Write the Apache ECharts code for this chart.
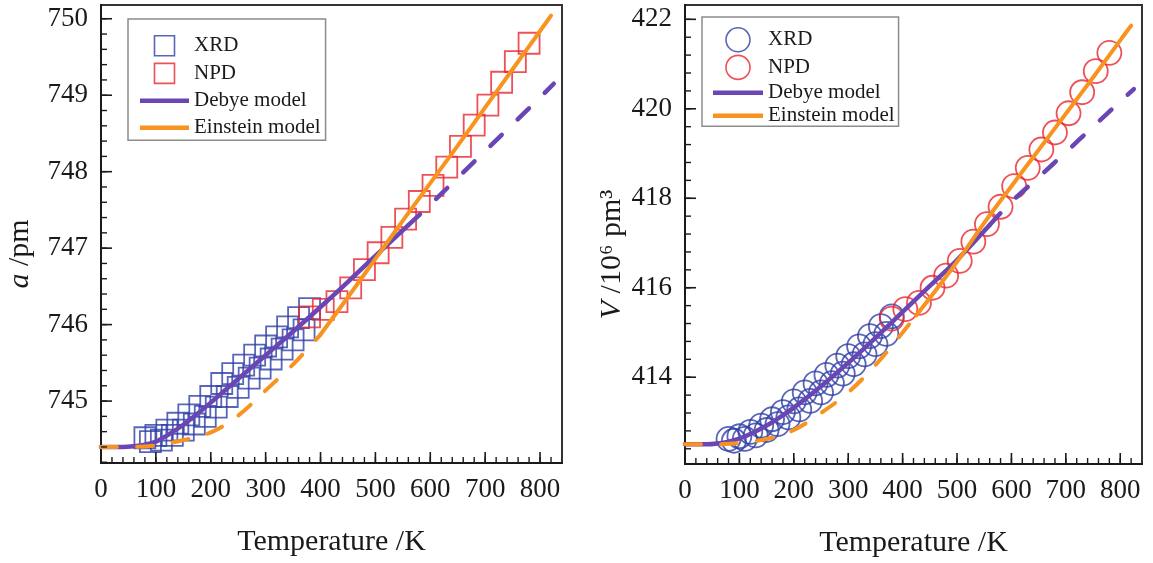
<!DOCTYPE html>
<html><head><meta charset="utf-8">
<script src="https://cdn.jsdelivr.net/npm/echarts@6/dist/echarts.min.js"></script>
<style>html,body{margin:0;padding:0;background:#fff}#c{width:1153px;height:563px}</style>
</head><body><div id="c"></div>
<script>
// ---------- tick values ----------
const tempMajor = [0,100,200,300,400,500,600,700,800];
const latticeMajor = [745,746,747,748,749,750];
const volumeMajor = [414,416,418,420,422];

// ---------- left panel: lattice parameter a (pm) ----------
const xrdT = [80,90,100,110,120,130,140,150,160,170,180,190,200,210,220,230,240,250,260,270,280,290,300,310,320,330,340,350,360,370,380];
const xrdA = [744.52,744.47,744.55,744.49,744.62,744.55,744.71,744.62,744.82,744.70,744.93,744.80,745.06,744.92,745.23,745.06,745.36,745.18,745.47,745.30,745.60,745.43,745.72,745.55,745.84,745.68,745.97,745.80,746.09,745.93,746.21];
const npdT = [380,405,430,455,480,505,530,555,580,605,630,655,680,705,730,755,780];
const npdA = [746.10,746.20,746.30,746.48,746.72,746.94,747.14,747.38,747.61,747.82,748.06,748.33,748.61,748.87,749.17,749.44,749.68];
const debyeT = [0,40,60,80,100,125,150,175,200,250,300,350,400,450,500,560,600,650,700,750,800,825];
const debyeA = [744.40,744.40,744.41,744.43,744.47,744.57,744.69,744.83,744.98,745.29,745.60,745.91,746.23,746.56,746.90,747.30,747.57,747.92,748.27,748.62,748.97,749.15];
const einsteinT_A = [0,50,100,150,200,250,300,350,400,450,500,550,600,650,700,750,800,820];
const einsteinA = [744.40,744.40,744.42,744.49,744.59,744.81,745.14,745.48,745.87,746.36,746.86,747.36,747.85,748.34,748.84,749.34,749.84,750.04];

// ---------- right panel: cell volume V (10^6 pm^3) ----------
const xrdV = [412.62,412.58,412.68,412.62,412.78,412.70,412.92,412.82,413.06,412.95,413.22,413.10,413.46,413.28,413.66,413.47,413.86,413.66,414.05,413.87,414.26,414.08,414.47,414.29,414.69,414.51,414.92,414.74,415.14,414.97,415.36];
const npdV = [415.31,415.52,415.66,416.00,416.27,416.60,417.03,417.42,417.81,418.27,418.68,419.09,419.47,419.90,420.37,420.84,421.25];
const debyeV = [412.50,412.50,412.52,412.56,412.63,412.76,412.92,413.11,413.32,413.80,414.32,414.88,415.46,416.04,416.62,417.40,417.92,418.47,419.03,419.60,420.16,420.44];
const einsteinT_V = [0,50,100,150,200,250,300,350,400,425,450,500,550,600,650,700,750,800,820];
const einsteinV = [412.50,412.50,412.53,412.62,412.82,413.20,413.66,414.27,415.00,415.38,415.77,416.58,417.45,418.27,419.08,419.89,420.70,421.53,421.86];

// fit ranges (solid) vs extrapolation (dashed)
const debyeSplit = 560;
const einsteinSplitA = 400;
const einsteinSplitV = 425;

// axis ranges
const T_MIN = 0, T_MAX = 840;
const A_MIN = 744.19, A_MAX = 750.18;
const V_MIN = 412.06, V_MAX = 422.32;

// ---------- helpers ----------
const zip = (xs, ys) => xs.map((x, i) => [x, ys[i]]);
const upTo = (pts, s) => pts.filter(p => p[0] <= s);
const from = (pts, s) => pts.filter(p => p[0] >= s);
const steps = (a, b, st) => { const r = []; for (let v = a; v <= b + 1e-9; v += st) r.push(Math.round(v * 1000) / 1000); return r; };

const FONT = '"Liberation Serif","Times New Roman",serif';
const BLUE = '#2f3ea6', RED = '#e8252d', PURPLE = '#6a45b4', ORANGE = '#f7931e', INK = '#1a1a1a';

const tempMinor = steps(20, 820, 20);
const latticeMinor = steps(744.2, 750.0, 0.2);
const volumeMinor = steps(412.4, 422.0, 0.4);

function xAxisFor(g) {
  return { type:'value', gridIndex:g, position:'bottom', min:T_MIN, max:T_MAX, interval:100,
    axisLine:{ show:true, onZero:false, lineStyle:{ color:INK, width:2 } },
    axisTick:{ show:false },
    axisLabel:{ show:true, fontFamily:FONT, fontSize:27, color:INK, margin:13, showMaxLabel:false },
    splitLine:{ show:false },
    name:'Temperature /K', nameLocation:'middle', nameGap:64,
    nameTextStyle:{ fontFamily:FONT, fontSize:30, color:INK } };
}
function yAxisFor(g, min, max, major, name, gap) {
  return { type:'value', gridIndex:g, position:'left', min, max,
    axisLine:{ show:true, onZero:false, lineStyle:{ color:INK, width:2 } },
    axisTick:{ show:false },
    axisLabel:{ show:true, customValues:major, fontFamily:FONT, fontSize:27, color:INK, margin:13 },
    splitLine:{ show:false },
    name, nameLocation:'middle', nameGap:gap, nameRotate:90,
    nameTextStyle:{ fontFamily:FONT, fontSize:30, color:INK, padding:[0,40,0,0],
      rich:{ i:{ fontFamily:FONT, fontSize:30, fontStyle:'italic', color:INK } } } };
}

// inward-pointing tick marks, placed through the axis scales (api.coord)
function xTicks(values, ai, yMin, len, width) {
  return { type:'custom', xAxisIndex:ai, yAxisIndex:ai, silent:true, z:6, clip:false,
    data: values.map(v => [v, yMin]),
    renderItem: (params, api) => {
      const p = api.coord([api.value(0), api.value(1)]);
      return { type:'line', shape:{ x1:p[0], y1:p[1], x2:p[0], y2:p[1] - len },
        style:{ stroke:INK, lineWidth:width } };
    } };
}
function yTicks(values, ai, xMin, len, width) {
  return { type:'custom', xAxisIndex:ai, yAxisIndex:ai, silent:true, z:6, clip:false,
    data: values.map(v => [xMin, v]),
    renderItem: (params, api) => {
      const p = api.coord([api.value(0), api.value(1)]);
      return { type:'line', shape:{ x1:p[0], y1:p[1], x2:p[0] + len, y2:p[1] },
        style:{ stroke:INK, lineWidth:width } };
    } };
}

function scatter(name, pts, ai, symbol, size, color) {
  return { type:'scatter', name, data:pts, xAxisIndex:ai, yAxisIndex:ai, symbol, symbolSize:size,
    itemStyle:{ color:'rgba(0,0,0,0)', borderColor:color, borderWidth:1.8 }, z:2, silent:true };
}
function line(name, pts, ai, color, width, dashed) {
  return { type:'line', name, data:pts, xAxisIndex:ai, yAxisIndex:ai, showSymbol:false, symbol:'none',
    smooth:0.35, lineStyle:{ color, width, type: dashed ? (color === PURPLE ? [16,22] : [16,20]) : 'solid', cap:'round' },
    itemStyle:{ color }, z:3, silent:true };
}

const debyePtsA = zip(debyeT, debyeA), einPtsA = zip(einsteinT_A, einsteinA);
const debyePtsV = zip(debyeT, debyeV), einPtsV = zip(einsteinT_V, einsteinV);

const squareIcon = 'path://M0 0H10V10H0Z';
const barIcon = 'path://M0 0H100V9H0Z';
function legend(left, top, w, h, gap, pad, markerIcon) {
  return {
    orient:'vertical', left, top, padding:pad, itemWidth:w, itemHeight:h, itemGap:gap, align:'left',
    backgroundColor:'#fff', borderColor:'#8c8c8c', borderWidth:1.5, selectedMode:false,
    textStyle:{ fontFamily:FONT, fontSize:21, color:INK },
    data:[
      { name:'XRD', icon:markerIcon, itemStyle:{ color:'rgba(0,0,0,0)', borderColor:BLUE, borderWidth:1.6 } },
      { name:'NPD', icon:markerIcon, itemStyle:{ color:'rgba(0,0,0,0)', borderColor:RED, borderWidth:1.6 } },
      { name:'Debye model', icon:barIcon, itemStyle:{ color:PURPLE, borderWidth:0 } },
      { name:'Einstein model', icon:barIcon, itemStyle:{ color:ORANGE, borderWidth:0 } }
    ]
  };
}

const option = {
  backgroundColor:'#fff',
  animation:false,
  grid:[
    { left:101, top:5, width:461, height:458, show:true, borderColor:'#333', borderWidth:2 },
    { left:685, top:5, width:457, height:459, show:true, borderColor:'#333', borderWidth:2 }
  ],
  xAxis:[ xAxisFor(0), xAxisFor(1) ],
  yAxis:[
    yAxisFor(0, A_MIN, A_MAX, latticeMajor, '{i|a} /pm', 66),
    yAxisFor(1, V_MIN, V_MAX, volumeMajor, '{i|V} /10\u2076 pm\u00B3', 56)
  ],
  legend:[
    legend(128, 19, 49, 20, 6, [16,5,2,12], squareIcon),
    legend(702, 17, 50, 24, 2, [10,4,0,11], 'circle')
  ],
  series:[
    scatter('XRD', zip(xrdT, xrdA), 0, 'rect', 21, BLUE),
    scatter('NPD', zip(npdT, npdA), 0, 'rect', 21, RED),
    line('Debye model', upTo(debyePtsA, debyeSplit), 0, PURPLE, 4.5, false),
    line('Debye model', from(debyePtsA, debyeSplit), 0, PURPLE, 4.5, true),
    line('Einstein model', from(einPtsA, einsteinSplitA), 0, ORANGE, 4, false),
    line('Einstein model', upTo(einPtsA, einsteinSplitA), 0, ORANGE, 4, true),
    xTicks(tempMajor, 0, A_MIN, 11, 1.6),
    xTicks(tempMinor, 0, A_MIN, 6, 1.4),
    yTicks(latticeMajor, 0, T_MIN, 11, 1.6),
    yTicks(latticeMinor, 0, T_MIN, 6, 1.4),

    scatter('XRD', zip(xrdT, xrdV), 1, 'circle', 24, BLUE),
    scatter('NPD', zip(npdT, npdV), 1, 'circle', 24, RED),
    line('Debye model', upTo(debyePtsV, debyeSplit), 1, PURPLE, 4.5, false),
    line('Debye model', from(debyePtsV, debyeSplit), 1, PURPLE, 4.5, true),
    line('Einstein model', from(einPtsV, einsteinSplitV), 1, ORANGE, 4, false),
    line('Einstein model', upTo(einPtsV, einsteinSplitV), 1, ORANGE, 4, true),
    xTicks(tempMajor, 1, V_MIN, 11, 1.6),
    xTicks(tempMinor, 1, V_MIN, 6, 1.4),
    yTicks(volumeMajor, 1, T_MIN, 11, 1.6),
    yTicks(volumeMinor, 1, T_MIN, 6, 1.4)
  ]
};

const chart = echarts.init(document.getElementById('c'), null, { renderer:'canvas', width:1153, height:563 });
chart.setOption(option);
</script>
</body></html>
